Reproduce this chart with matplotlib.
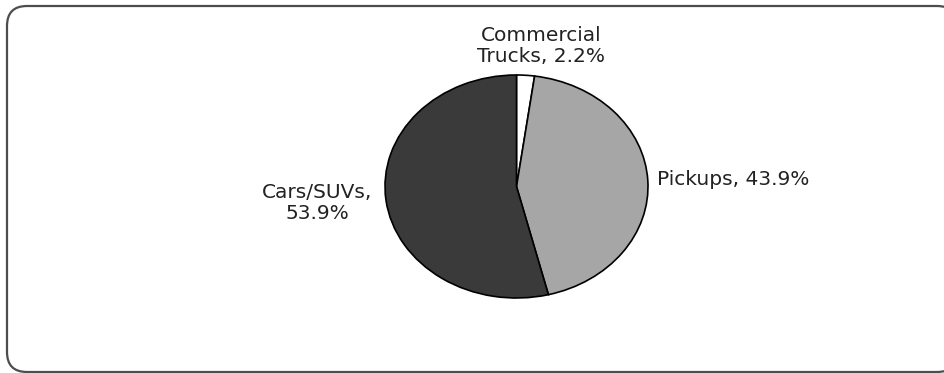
import matplotlib
matplotlib.use("Agg")
import matplotlib.pyplot as plt
from matplotlib.patches import FancyBboxPatch

# Share of vehicles by type
categories = ["Commercial\nTrucks", "Pickups", "Cars/SUVs"]
shares = [2.2, 43.9, 53.9]

colors = ["#ffffff", "#a6a6a6", "#3a3a3a"]
label_sep = [" ", " ", "\n"]
# label anchor (in pie radius units) and alignment
label_pos = [(0.19, 1.26, "center"), (1.065, 0.067, "left"), (-1.513, -0.148, "center")]


def main():
    fig = plt.figure(figsize=(9.45, 3.73), dpi=100)

    # rounded frame around the chart, drawn in pixel units
    bg = fig.add_axes([0, 0, 1, 1])
    bg.set_xlim(0, 945)
    bg.set_ylim(373, 0)
    bg.axis("off")
    frame = FancyBboxPatch((7, 6), 950, 366,
                           boxstyle="round,pad=0,rounding_size=20",
                           facecolor="white", edgecolor="#4d4d4d", linewidth=1.6)
    bg.add_patch(frame)

    # pie axes placed over the (slightly oval) pie area
    ax = fig.add_axes([385 / 945, 75 / 373, 263 / 945, 223 / 373])
    ax.pie(shares, colors=colors, startangle=90, counterclock=False,
           wedgeprops=dict(edgecolor="black", linewidth=1.2))
    ax.set_aspect("auto")
    ax.set_xlim(-1, 1)
    ax.set_ylim(-1, 1)
    ax.axis("off")

    for name, val, sep, (x, y, ha) in zip(categories, shares, label_sep, label_pos):
        ax.text(x, y, f"{name},{sep}{val}%", ha=ha, va="center", fontsize=14.5,
                color="#222222", linespacing=1.15, clip_on=False,
                multialignment="center", family="DejaVu Sans")

    fig.savefig("out.png", dpi=100)


if __name__ == "__main__":
    main()
